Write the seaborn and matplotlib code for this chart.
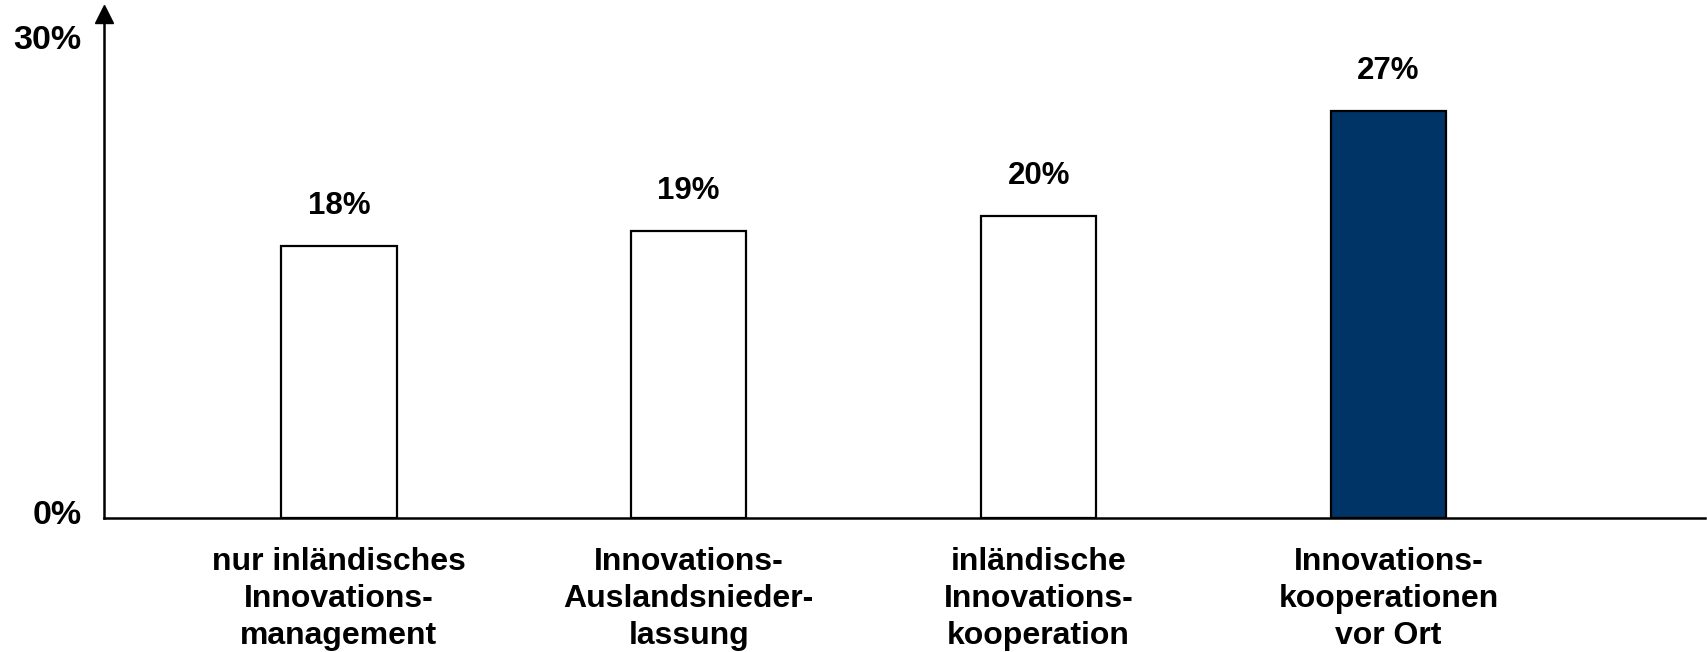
import matplotlib
matplotlib.use("Agg")
import matplotlib.pyplot as plt
import seaborn as sns

categories = [
    "nur inländisches\nInnovations-\nmanagement",
    "Innovations-\nAuslandsnieder-\nlassung",
    "inländische\nInnovations-\nkooperation",
    "Innovations-\nkooperationen\nvor Ort",
]
values = [18, 19, 20, 27]
value_labels = ["18%", "19%", "20%", "27%"]
ytick_labels = ["0%", "30%"]
bar_colors = ["#FFFFFF", "#FFFFFF", "#FFFFFF", "#003366"]

sns.set_theme(style="white")
plt.rcParams["font.family"] = ["Liberation Sans", "DejaVu Sans"]
plt.rcParams["font.weight"] = "bold"
plt.rcParams["text.color"] = "black"
plt.rcParams["xtick.color"] = "black"
plt.rcParams["ytick.color"] = "black"

fig = plt.figure(figsize=(17.08, 6.52), dpi=100)
ax = fig.add_axes([0.0609, 0.2055, 0.9371, 0.773])

sns.barplot(x=categories, y=values, hue=categories, palette=bar_colors,
            edgecolor="black", linewidth=1.6, width=0.33, legend=False,
            saturation=1, ax=ax)

for cont, lab in zip(ax.containers, value_labels):
    ax.bar_label(cont, labels=[lab], padding=18, fontsize=22.5,
                 fontweight="bold", color="black")

ax.set_xlim(-0.671, 3.903)
ax.set_ylim(0, 33.4)
ax.set_yticks([0.4, 31.9])
ax.set_yticklabels(ytick_labels, fontsize=24.5, fontweight="bold", color="black")
ax.tick_params(axis="y", length=0, pad=16)
ax.tick_params(axis="x", length=0, pad=21, labelsize=23, labelcolor="black")
for t in ax.get_xticklabels():
    t.set_fontweight("bold")
    t.set_linespacing(1.3)
    t.set_color("black")

for s in ["top", "right"]:
    ax.spines[s].set_visible(False)
for s in ["left", "bottom"]:
    ax.spines[s].set_color("black")
    ax.spines[s].set_linewidth(1.8)
ax.plot([0], [1], marker="^", color="black", markersize=13,
        transform=ax.transAxes, clip_on=False)
ax.set_xlabel("")
ax.set_ylabel("")

fig.savefig("out.png", dpi=100)
